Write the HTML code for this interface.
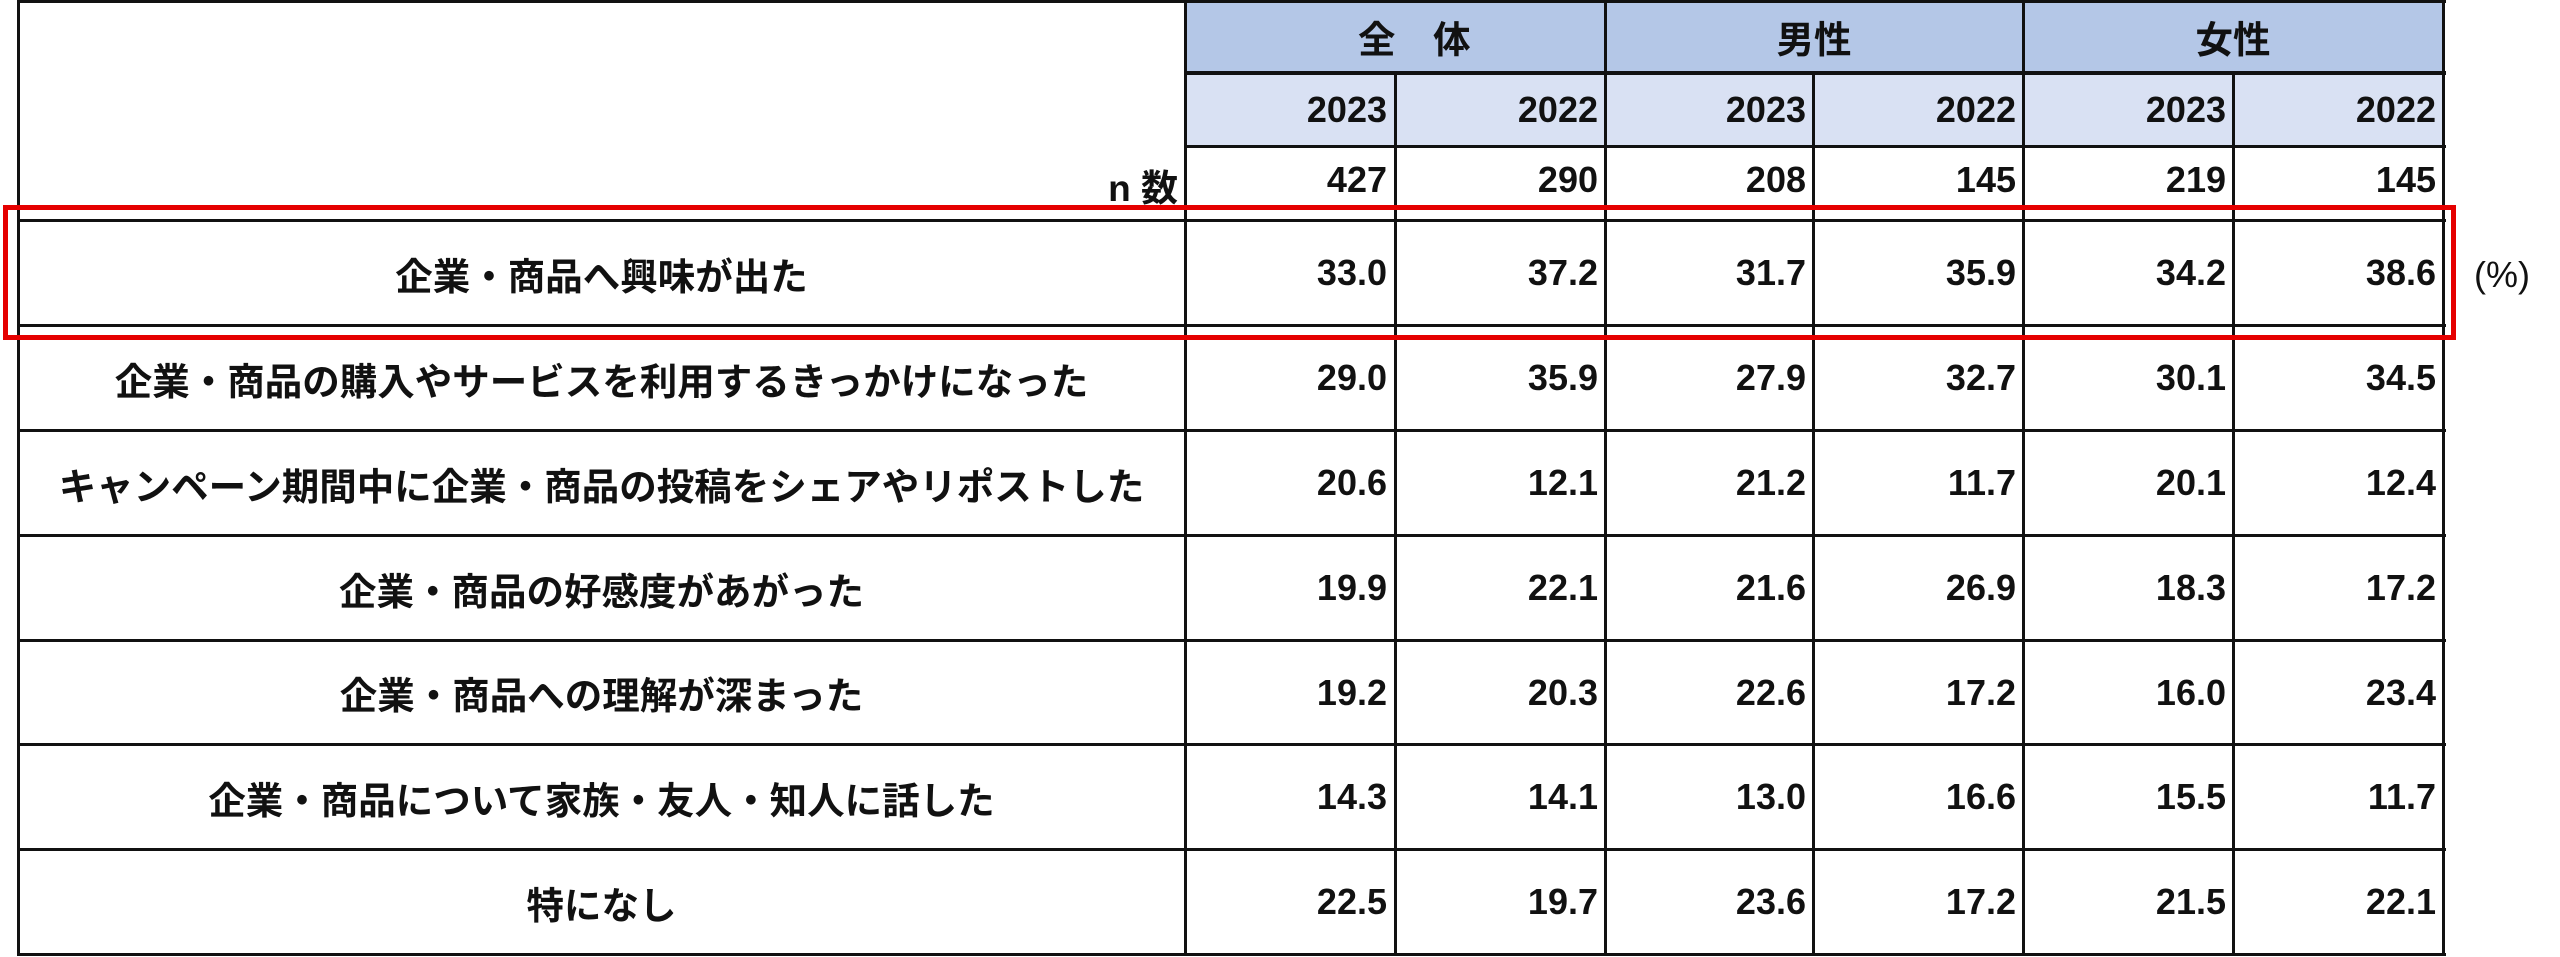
<!DOCTYPE html>
<html>
<head>
<meta charset="utf-8">
<style>
html,body{margin:0;padding:0;background:#fff;}
#c{position:relative;width:2560px;height:957px;overflow:hidden;background:#fff;font-family:"Liberation Sans","Noto Sans CJK JP",sans-serif;color:#111;}
.f{position:absolute;}
.h{position:absolute;background:#111;height:3px;}
.v{position:absolute;background:#111;width:3px;}
.lab{position:absolute;left:18px;width:1167px;display:flex;align-items:center;justify-content:center;font-family:"Liberation Sans","Noto Sans CJK JP",sans-serif;font-weight:bold;font-size:37.5px;white-space:nowrap;}
.num{position:absolute;display:flex;align-items:center;justify-content:flex-end;font-family:"Liberation Sans",sans-serif;font-weight:bold;font-size:36px;white-space:nowrap;}
.hd{position:absolute;display:flex;align-items:center;justify-content:center;font-family:"Liberation Sans","Noto Sans CJK JP",sans-serif;font-weight:bold;font-size:37.5px;white-space:nowrap;}
</style>
</head>
<body>
<div id="c">
  <!-- header backgrounds -->
  <div class="f" style="left:1185px;top:0;width:1258px;height:73px;background:#B4C7E7;"></div>
  <div class="f" style="left:1185px;top:73px;width:1258px;height:73px;background:#D9E1F3;"></div>

  <!-- horizontal lines -->
  <div class="h" style="left:18px;top:0;width:2428px;"></div>
  <div class="h" style="left:1185px;top:71px;width:1261px;height:4px;"></div>
  <div class="h" style="left:1185px;top:145px;width:1261px;"></div>
  <div class="h" style="left:18px;top:219px;width:2428px;"></div>
  <div class="h" style="left:18px;top:324px;width:2428px;"></div>
  <div class="h" style="left:18px;top:429px;width:2428px;"></div>
  <div class="h" style="left:18px;top:534px;width:2428px;"></div>
  <div class="h" style="left:18px;top:639px;width:2428px;"></div>
  <div class="h" style="left:18px;top:743px;width:2428px;"></div>
  <div class="h" style="left:18px;top:848px;width:2428px;"></div>
  <div class="h" style="left:18px;top:953px;width:2428px;"></div>

  <!-- vertical lines -->
  <div class="v" style="left:17px;top:0;height:956px;"></div>
  <div class="v" style="left:1184px;top:0;height:956px;"></div>
  <div class="v" style="left:1394px;top:73px;height:883px;"></div>
  <div class="v" style="left:1604px;top:0;height:956px;"></div>
  <div class="v" style="left:1812px;top:73px;height:883px;"></div>
  <div class="v" style="left:2022px;top:0;height:956px;"></div>
  <div class="v" style="left:2232px;top:73px;height:883px;"></div>
  <div class="v" style="left:2442px;top:0;height:956px;"></div>

  <!-- group headers -->
  <div class="hd" style="left:1358px;top:0;width:114px;height:72px;justify-content:flex-start;">全　体</div>
  <div class="hd" style="left:1605px;top:0;width:418px;height:72px;">男性</div>
  <div class="hd" style="left:2023px;top:0;width:420px;height:72px;">女性</div>

  <!-- year row -->
  <div class="num" style="left:1185px;top:74px;width:202px;height:72px;">2023</div>
  <div class="num" style="left:1395px;top:74px;width:203px;height:72px;">2022</div>
  <div class="num" style="left:1605px;top:74px;width:201px;height:72px;">2023</div>
  <div class="num" style="left:1813px;top:74px;width:203px;height:72px;">2022</div>
  <div class="num" style="left:2023px;top:74px;width:203px;height:72px;">2023</div>
  <div class="num" style="left:2233px;top:74px;width:203px;height:72px;">2022</div>

  <!-- n row -->
  <div class="f" style="left:1000px;top:160px;width:178px;height:50px;display:flex;align-items:center;justify-content:flex-end;font-weight:bold;font-size:37px;font-family:'Liberation Sans','Noto Sans CJK JP',sans-serif;">n 数</div>
  <div class="num" style="left:1185px;top:155px;width:202px;height:50px;">427</div>
  <div class="num" style="left:1395px;top:155px;width:203px;height:50px;">290</div>
  <div class="num" style="left:1605px;top:155px;width:201px;height:50px;">208</div>
  <div class="num" style="left:1813px;top:155px;width:203px;height:50px;">145</div>
  <div class="num" style="left:2023px;top:155px;width:203px;height:50px;">219</div>
  <div class="num" style="left:2233px;top:155px;width:203px;height:50px;">145</div>

  <!-- row 1 -->
  <div class="lab" style="top:221px;height:104px;">企業・商品へ興味が出た</div>
  <div class="num" style="left:1185px;top:221px;width:202px;height:104px;">33.0</div>
  <div class="num" style="left:1395px;top:221px;width:203px;height:104px;">37.2</div>
  <div class="num" style="left:1605px;top:221px;width:201px;height:104px;">31.7</div>
  <div class="num" style="left:1813px;top:221px;width:203px;height:104px;">35.9</div>
  <div class="num" style="left:2023px;top:221px;width:203px;height:104px;">34.2</div>
  <div class="num" style="left:2233px;top:221px;width:203px;height:104px;">38.6</div>

  <!-- row 2 -->
  <div class="lab" style="top:326px;height:104px;">企業・商品の購入やサービスを利用するきっかけになった</div>
  <div class="num" style="left:1185px;top:326px;width:202px;height:104px;">29.0</div>
  <div class="num" style="left:1395px;top:326px;width:203px;height:104px;">35.9</div>
  <div class="num" style="left:1605px;top:326px;width:201px;height:104px;">27.9</div>
  <div class="num" style="left:1813px;top:326px;width:203px;height:104px;">32.7</div>
  <div class="num" style="left:2023px;top:326px;width:203px;height:104px;">30.1</div>
  <div class="num" style="left:2233px;top:326px;width:203px;height:104px;">34.5</div>

  <!-- row 3 -->
  <div class="lab" style="top:431px;height:104px;">キャンペーン期間中に企業・商品の投稿をシェアやリポストした</div>
  <div class="num" style="left:1185px;top:431px;width:202px;height:104px;">20.6</div>
  <div class="num" style="left:1395px;top:431px;width:203px;height:104px;">12.1</div>
  <div class="num" style="left:1605px;top:431px;width:201px;height:104px;">21.2</div>
  <div class="num" style="left:1813px;top:431px;width:203px;height:104px;">11.7</div>
  <div class="num" style="left:2023px;top:431px;width:203px;height:104px;">20.1</div>
  <div class="num" style="left:2233px;top:431px;width:203px;height:104px;">12.4</div>

  <!-- row 4 -->
  <div class="lab" style="top:536px;height:104px;">企業・商品の好感度があがった</div>
  <div class="num" style="left:1185px;top:536px;width:202px;height:104px;">19.9</div>
  <div class="num" style="left:1395px;top:536px;width:203px;height:104px;">22.1</div>
  <div class="num" style="left:1605px;top:536px;width:201px;height:104px;">21.6</div>
  <div class="num" style="left:1813px;top:536px;width:203px;height:104px;">26.9</div>
  <div class="num" style="left:2023px;top:536px;width:203px;height:104px;">18.3</div>
  <div class="num" style="left:2233px;top:536px;width:203px;height:104px;">17.2</div>

  <!-- row 5 -->
  <div class="lab" style="top:641px;height:103px;">企業・商品への理解が深まった</div>
  <div class="num" style="left:1185px;top:641px;width:202px;height:103px;">19.2</div>
  <div class="num" style="left:1395px;top:641px;width:203px;height:103px;">20.3</div>
  <div class="num" style="left:1605px;top:641px;width:201px;height:103px;">22.6</div>
  <div class="num" style="left:1813px;top:641px;width:203px;height:103px;">17.2</div>
  <div class="num" style="left:2023px;top:641px;width:203px;height:103px;">16.0</div>
  <div class="num" style="left:2233px;top:641px;width:203px;height:103px;">23.4</div>

  <!-- row 6 -->
  <div class="lab" style="top:745px;height:104px;">企業・商品について家族・友人・知人に話した</div>
  <div class="num" style="left:1185px;top:745px;width:202px;height:104px;">14.3</div>
  <div class="num" style="left:1395px;top:745px;width:203px;height:104px;">14.1</div>
  <div class="num" style="left:1605px;top:745px;width:201px;height:104px;">13.0</div>
  <div class="num" style="left:1813px;top:745px;width:203px;height:104px;">16.6</div>
  <div class="num" style="left:2023px;top:745px;width:203px;height:104px;">15.5</div>
  <div class="num" style="left:2233px;top:745px;width:203px;height:104px;">11.7</div>

  <!-- row 7 -->
  <div class="lab" style="top:850px;height:104px;">特になし</div>
  <div class="num" style="left:1185px;top:850px;width:202px;height:104px;">22.5</div>
  <div class="num" style="left:1395px;top:850px;width:203px;height:104px;">19.7</div>
  <div class="num" style="left:1605px;top:850px;width:201px;height:104px;">23.6</div>
  <div class="num" style="left:1813px;top:850px;width:203px;height:104px;">17.2</div>
  <div class="num" style="left:2023px;top:850px;width:203px;height:104px;">21.5</div>
  <div class="num" style="left:2233px;top:850px;width:203px;height:104px;">22.1</div>

  <!-- red highlight -->
  <div class="f" style="left:3px;top:205px;width:2443px;height:125px;border:5px solid #e50000;"></div>

  <!-- unit -->
  <div class="f" style="left:2474px;top:250px;height:50px;display:flex;align-items:center;font-family:'Liberation Sans',sans-serif;font-size:36px;color:#111;">(%)</div>
</div>
</body>
</html>
